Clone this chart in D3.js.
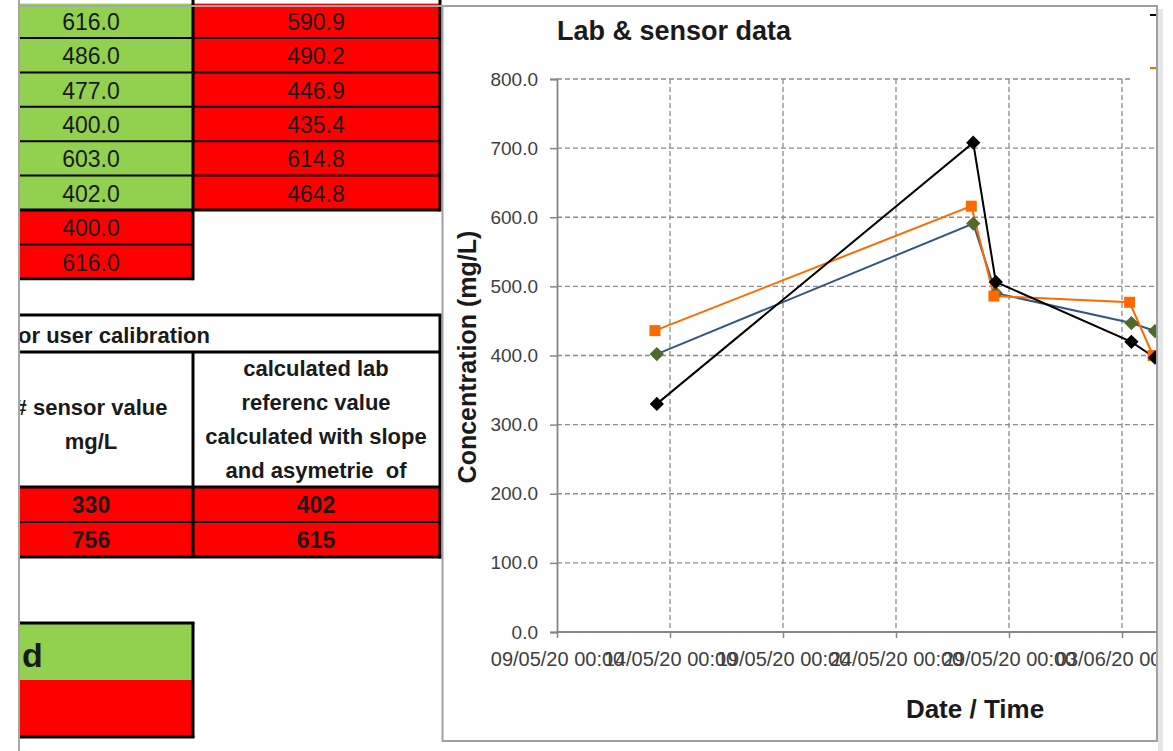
<!DOCTYPE html>
<html>
<head>
<meta charset="utf-8">
<script src="https://cdn.jsdelivr.net/npm/d3@7"></script>
<style>
body { margin: 0; background: #fff; }
text { font-family: "Liberation Sans", Arial, sans-serif; white-space: pre; }
</style>
</head>
<body>
<div id="sheet"></div>
<script>
// spreadsheet values
var labValues = [616.0, 486.0, 477.0, 400.0, 603.0, 402.0];
var calcValues = [590.9, 490.2, 446.9, 435.4, 614.8, 464.8];
var labMinMax = [400.0, 616.0];
var calSensor = [330, 756];
var calLab = [402, 615];
var calHeaderLeft = ["# sensor value", "mg/L"];
var calHeaderRight = ["calculated lab", "referenc value", "calculated with slope", "and asymetrie  of"];

// chart series
var labDates = ["13/05/20 08:00", "27/05/20 08:00", "28/05/20 08:00", "03/06/20 08:00", "04/06/20 09:00"];
var labSeries = [436, 616, 486, 477, 400];
var sensorDates = ["13/05/20 10:00", "27/05/20 10:00", "28/05/20 10:00", "03/06/20 10:00", "04/06/20 11:00"];
var sensorSeries = [330, 707.8, 506.4, 419.8, 396.8];
var calcSeries = [402, 590.9, 490.2, 446.9, 435.4];
var xTicks = ["09/05/20 00:00", "14/05/20 00:00", "19/05/20 00:00", "24/05/20 00:00", "29/05/20 00:00", "03/06/20 00:00", "08/06/20 00:00"];
var yTicks = [0, 100, 200, 300, 400, 500, 600, 700, 800];

var W = 1173, H = 751;
var green = "#92d050", red = "#ff0000";
var parse = d3.timeParse("%d/%m/%y %H:%M");
var fmt = d3.timeFormat("%d/%m/%y %H:%M");

var svg = d3.select("#sheet").append("svg")
    .attr("width", W)
    .attr("height", H);

var defs = svg.append("defs");
defs.append("clipPath").attr("id", "sheetClip")
    .append("rect").attr("x", 19.5).attr("y", 0).attr("width", 424).attr("height", H);
defs.append("clipPath").attr("id", "chartClip")
    .append("rect").attr("x", 443).attr("y", 7).attr("width", 713).attr("height", 734);

// ---------- left part of the sheet ----------
var sh = svg.append("g").attr("clip-path", "url(#sheetClip)");

function cell(x0, x1, y0, y1, fill) {
  sh.append("rect").attr("x", x0).attr("y", y0)
    .attr("width", x1 - x0).attr("height", y1 - y0).attr("fill", fill);
}
function line(x0, y0, x1, y1, w) {
  sh.append("line").attr("x1", x0).attr("y1", y0).attr("x2", x1).attr("y2", y1)
    .attr("stroke", "#000").attr("stroke-width", w);
}
function label(t, x, y, size, bold, anchor) {
  sh.append("text").attr("x", x).attr("y", y)
    .attr("text-anchor", anchor || "middle")
    .attr("dominant-baseline", "central")
    .attr("font-size", size)
    .attr("font-weight", bold ? "bold" : "normal")
    .attr("fill", "#1a1a1a")
    .text(t);
}

var rowH = 34.4, top0 = 3.6;
var c1 = 91, c2 = 316;

labValues.forEach(function (v, i) {
  var y0 = top0 + i * rowH;
  cell(0, 193, y0, y0 + rowH, green);
  cell(193, 440, y0, y0 + rowH, red);
  label(v.toFixed(1), c1, y0 + rowH / 2 + 1, 23, false);
  label(calcValues[i].toFixed(1), c2, y0 + rowH / 2 + 1, 23, false);
});
labMinMax.forEach(function (v, i) {
  var y0 = top0 + (labValues.length + i) * rowH;
  cell(0, 193, y0, y0 + rowH, red);
  label(v.toFixed(1), c1, y0 + rowH / 2 + 1, 23, false);
});
d3.range(1, 9).forEach(function (i) {
  var y = top0 + i * rowH;
  line(0, y, i <= 6 ? 440 : 193, y, i == 6 || i == 8 ? 3 : 2);
});
line(193, 0, 193, top0 + 8 * rowH + 1.5, 3);
line(440, 0, 440, top0 + 6 * rowH + 1.5, 3);

// calibration table
cell(0, 440, 315, 487, "#fff");
label("for user calibration", 210, 335, 22, true, "end");
calHeaderLeft.forEach(function (t, i) { label(t, c1, 407 + i * 34, 22, true); });
calHeaderRight.forEach(function (t, i) { label(t, c2, 368 + i * 34, 22, true); });
calSensor.forEach(function (v, i) {
  var y0 = 487 + i * 35;
  cell(0, 440, y0, y0 + 35, red);
  label(v, c1, y0 + 18, 23, true);
  label(calLab[i], c2, y0 + 18, 23, true);
});
[315, 557].forEach(function (y) { line(0, y, 441.5, y, 3); });
[352, 487, 522].forEach(function (y) { line(0, y, 440, y, y == 522 ? 2 : 3); });
line(193, 352, 193, 557, 3);
line(440, 315, 440, 558.5, 3);

// status block
cell(0, 193, 623, 680, green);
cell(0, 193, 680, 737, red);
label("d", 22, 655, 34, true, "start");
line(0, 623, 194.5, 623, 3);
line(0, 737, 194.5, 737, 3);
line(193, 623, 193, 737, 3);

// sheet edges
svg.append("line").attr("x1", 19).attr("y1", 0).attr("x2", 19).attr("y2", H)
    .attr("stroke", "#a6a6a6").attr("stroke-width", 2);
svg.append("line").attr("x1", 19).attr("y1", 6).attr("x2", 443).attr("y2", 6)
    .attr("stroke", "#a6a6a6").attr("stroke-width", 2);

// ---------- chart ----------
svg.append("rect").attr("x", 1158).attr("y", 9).attr("width", 5).attr("height", H - 9)
    .attr("fill", "#e6e6e6");
svg.append("rect").attr("x", 442.5).attr("y", 6).attr("width", 714.5).attr("height", 735)
    .attr("fill", "#fff").attr("stroke", "#a0a0a0").attr("stroke-width", 2);

var ch = svg.append("g").attr("clip-path", "url(#chartClip)");

var x = d3.scaleTime()
    .domain([parse(xTicks[0]), parse(xTicks[xTicks.length - 1])])
    .range([557, 557 + 113 * (xTicks.length - 1)]);
var y = d3.scaleLinear().domain([0, 800]).range([632, 79]);

// gridlines
ch.append("g").selectAll("line").data(yTicks.slice(1)).enter().append("line")
    .attr("x1", 557).attr("x2", 1300)
    .attr("y1", function (d) { return y(d); }).attr("y2", function (d) { return y(d); })
    .attr("stroke", "#8c8c8c").attr("stroke-width", 1.3).attr("stroke-dasharray", "5,3");
ch.append("g").selectAll("line").data(xTicks.slice(1)).enter().append("line")
    .attr("x1", function (d) { return x(parse(d)); }).attr("x2", function (d) { return x(parse(d)); })
    .attr("y1", y(800)).attr("y2", y(0))
    .attr("stroke", "#8c8c8c").attr("stroke-width", 1.3).attr("stroke-dasharray", "5,3");

// axes
var yAxis = ch.append("g").attr("transform", "translate(557,0)")
    .call(d3.axisLeft(y).tickValues(yTicks).tickSize(7).tickPadding(12).tickFormat(d3.format(".1f")));
var xAxis = ch.append("g").attr("transform", "translate(0,632)")
    .call(d3.axisBottom(x).tickValues(xTicks.map(parse)).tickSize(6).tickPadding(14).tickFormat(fmt));
[yAxis, xAxis].forEach(function (a) {
  a.select(".domain").attr("stroke", "#868686").attr("stroke-width", 1.8);
  a.selectAll(".tick line").attr("stroke", "#868686").attr("stroke-width", 1.5);
  a.selectAll("text").attr("fill", "#404040")
    .style("font-family", "'Liberation Sans', Arial, sans-serif");
});
yAxis.selectAll("text").attr("font-size", 19);
xAxis.selectAll("text").attr("font-size", 20);
xAxis.select(".domain").attr("d", "M557,0H1300");

// series
function series(dates, vals, color, width) {
  var pts = dates.map(function (d, i) { return [x(parse(d)), y(vals[i])]; });
  ch.append("path").datum(pts)
    .attr("fill", "none").attr("stroke", color).attr("stroke-width", width)
    .attr("d", d3.line());
  return pts;
}
var calcPts = series(sensorDates, calcSeries, "#35577f", 2);
var labPts = series(labDates, labSeries, "#ff6a00", 2);
var sensPts = series(sensorDates, sensorSeries, "#000", 2);

var diamond = d3.symbol().type(d3.symbolDiamond2).size(130);
ch.append("g").selectAll("path").data(calcPts).enter().append("path")
    .attr("transform", function (d) { return "translate(" + d + ")"; })
    .attr("d", diamond).attr("fill", "#4f6b2b");
ch.append("g").selectAll("rect").data(labPts).enter().append("rect")
    .attr("x", function (d) { return d[0] - 5.5; }).attr("y", function (d) { return d[1] - 5.5; })
    .attr("width", 11).attr("height", 11).attr("fill", "#ff6a00");
ch.append("g").selectAll("path").data(sensPts).enter().append("path")
    .attr("transform", function (d) { return "translate(" + d + ")"; })
    .attr("d", diamond).attr("fill", "#000");

// legend (mostly off the visible edge)
var lg = ch.append("g");
lg.append("rect").attr("x", 1130).attr("y", 8).attr("width", 60).attr("height", 80).attr("fill", "#fff");
lg.append("line").attr("x1", 1150).attr("x2", 1190).attr("y1", 15).attr("y2", 15)
    .attr("stroke", "#000").attr("stroke-width", 2);
lg.append("line").attr("x1", 1150).attr("x2", 1190).attr("y1", 68).attr("y2", 68)
    .attr("stroke", "#ff6a00").attr("stroke-width", 2);

// titles
ch.append("text").attr("x", 557).attr("y", 40)
    .attr("font-size", 27).attr("font-weight", "bold").attr("fill", "#1a1a1a")
    .text("Lab & sensor data");
ch.append("text").attr("transform", "translate(476,357) rotate(-90)")
    .attr("text-anchor", "middle")
    .attr("font-size", 25).attr("font-weight", "bold").attr("fill", "#1a1a1a")
    .text("Concentration (mg/L)");
ch.append("text").attr("x", 975).attr("y", 718)
    .attr("text-anchor", "middle")
    .attr("font-size", 26).attr("font-weight", "bold").attr("fill", "#1a1a1a")
    .text("Date / Time");
</script>
</body>
</html>
